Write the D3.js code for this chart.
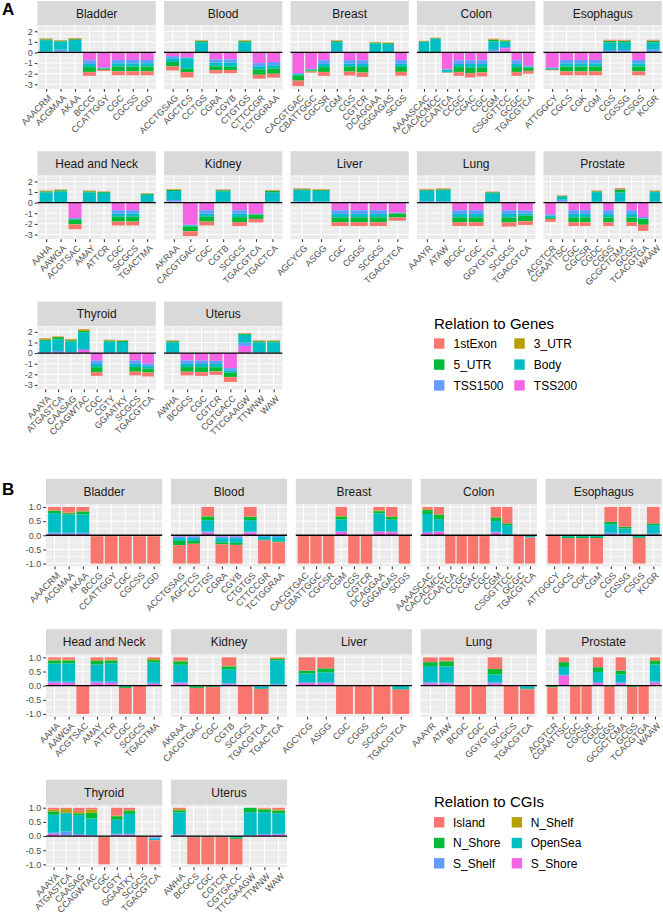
<!DOCTYPE html>
<html><head><meta charset="utf-8">
<script src="https://cdn.jsdelivr.net/npm/d3@7"></script>
<style>
body{margin:0;background:#fff}
svg{display:block}
text{font-family:"Liberation Sans",Arial,Helvetica,sans-serif}
</style>
</head><body>
<svg id="chart" width="663" height="919"></svg>
<script>
const tissues = ["Bladder","Blood","Breast","Colon","Esophagus","Head and Neck","Kidney","Liver","Lung","Prostate","Thyroid","Uterus"];

const motifs = [
  ["AAACRM","ACGMAA","AKAA","BCCG","CCATTGGY","CGC","CGCSS","CGD"],
  ["ACCTGSAG","AGCTCS","CCTGS","CGRA","CGYB","CTGTGS","CTTCCGR","TCTGGRAA"],
  ["CACGTGAC","CBATTGGC","CGCSR","CGM","CGS","CGTCR","DCAGGAA","GGGAGAS","SCGS"],
  ["AAAASCAC","CACACMCC","CCAATCA","CCGC","CGAC","CGC","CGM","CSGGTTCC","GCGC","TGACGTCA"],
  ["ATTGGCY","CGCS","CGK","CGM","CGS","CGSSG","CSGS","KCGR"],
  ["AAHA","AAWGA","ACGTSAC","AMAY","ATTCR","CGC","SCGCS","TGACTMA"],
  ["AKRAA","CACGTGAC","CGC","CGTB","SCGCS","TGACGTCA","TGACTCA"],
  ["AGCYCG","ASGG","CGC","CGGS","SCGCS","TGACGTCA"],
  ["AAAYR","ATAW","BCGC","CGC","GGYGTGY","SCGCS","TGACGTCA"],
  ["ACGTCR","CGAATTSC","CGC","CGCSR","CGDC","CGGS","GCGCTCMA","GCGS","TCACGTGA","WAAW"],
  ["AAAYA","ATGASTCA","CAASAG","CCAGWTAC","CGC","CGTY","GGAATKY","SCGCS","TGACGTCA"],
  ["AWHA","BCGCS","CGC","CGTCR","CGTGACC","TTCGAAGW","TTWNW","WAW"]
];

const geneKeys = ["1stExon","3_UTR","5_UTR","Body","TSS1500","TSS200"];
const cgiKeys = ["Island","N_Shelf","N_Shore","OpenSea","S_Shelf","S_Shore"];
const palette = ["#F8766D","#B79F00","#00BA38","#00BFC4","#619CFF","#F564E3"];

const yTicksA = [-3,-2,-1,0,1,2];
const yTicksB = [-1.0,-0.5,0.0,0.5,1.0];

// Panel A: relation to genes, per tissue, per motif: [1stExon,3_UTR,5_UTR,Body,TSS1500,TSS200]
const geneValues = [
  [[.04,.06,.08,1.05,.06,.04],[.03,.05,.07,.75,.2,.07],[.04,.07,.08,1.05,.08,.04],[-.35,-.02,-.45,-.3,-.35,-.73],[-.1,-.02,-.1,-.05,-.05,-1.43],[-.35,-.02,-.45,-.3,-.32,-.7],[-.36,-.02,-.44,-.3,-.33,-.7],[-.35,-.02,-.45,-.32,-.3,-.71]],
  [[-.4,0,-.4,-.3,-.25,-.35],[-.5,0,-.32,-1.0,-.05,-.48],[.03,.05,.1,.92,.03,.02],[-.3,-.02,-.35,-.35,-.3,-.65],[-.3,0,-.3,-.4,-.3,-.65],[.03,.05,.12,.88,.05,.02],[-.35,-.02,-.5,-.3,-.3,-1.0],[-.35,-.02,-.5,-.3,-.3,-.9]],
  [[-.5,-.02,-.5,-.1,-.1,-1.95],[-.1,-.02,-.1,-.08,-.05,-1.55],[-.35,-.02,-.45,-.3,-.35,-.73],[.03,.05,.1,.85,.08,.04],[-.35,-.02,-.45,-.3,-.33,-.72],[-.4,-.02,-.5,-.3,-.35,-.73],[.03,.04,.08,.8,.03,.02],[.03,.04,.1,.73,.03,.02],[-.35,-.02,-.45,-.3,-.35,-.72]],
  [[.02,.03,.05,.95,.03,.02],[.02,.05,.05,1.23,.03,.02],[-.02,0,-.05,-.2,-.03,-1.6],[-.35,-.02,-.45,-.3,-.35,-.73],[-.4,-.02,-.5,-.35,-.35,-.73],[-.37,-.02,-.46,-.32,-.35,-.73],[.04,.06,.15,.8,.15,.1],[.03,.05,.1,.5,.12,.4],[-.35,-.02,-.45,-.3,-.35,-.73],[-.25,-.02,-.3,-.1,-.08,-1.25]],
  [[-.05,0,-.07,-.08,-.05,-1.43],[-.35,-.02,-.45,-.3,-.32,-.71],[-.35,-.02,-.45,-.3,-.32,-.71],[-.35,-.02,-.45,-.3,-.32,-.71],[.08,.03,.15,.7,.2,.04],[.08,.03,.15,.7,.2,.04],[-.35,-.02,-.45,-.3,-.32,-.71],[.08,.03,.15,.65,.25,.04]],
  [[.03,.05,.1,.92,.03,.02],[.03,.05,.1,1.0,.05,.02],[-.45,-.02,-.45,-.05,-.08,-1.45],[.03,.05,.1,.92,.03,.02],[.03,.04,.08,.87,.03,.02],[-.35,-.02,-.45,-.3,-.32,-.71],[-.35,-.02,-.45,-.3,-.32,-.71],[.02,.03,.1,.72,.02,.01]],
  [[.03,.05,.1,.85,.15,.1],[-.45,-.02,-.45,-.08,-.07,-2.08],[-.35,-.02,-.45,-.3,-.32,-.71],[.03,.05,.1,1.0,.05,.02],[-.36,-.02,-.46,-.32,-.33,-.71],[-.3,-.02,-.4,-.05,-.03,-1.05],[.05,.05,.12,.9,.05,.03]],
  [[.04,.05,.08,1.05,.08,.05],[.03,.05,.08,1.0,.07,.04],[-.35,-.02,-.45,-.32,-.35,-.71],[-.35,-.02,-.45,-.32,-.35,-.71],[-.35,-.02,-.45,-.32,-.35,-.71],[-.3,-.02,-.35,-.05,-.03,-.95]],
  [[.04,.05,.08,1.0,.08,.05],[.04,.05,.08,1.05,.08,.05],[-.35,-.02,-.45,-.32,-.35,-.71],[-.35,-.02,-.45,-.32,-.35,-.71],[.03,.04,.08,.85,.03,.02],[-.38,-.02,-.46,-.33,-.35,-.71],[-.35,-.02,-.5,-.2,-.28,-.75]],
  [[-.25,-.02,-.1,-.2,-.13,-1.1],[.05,.02,.05,.3,.18,.1],[-.35,-.02,-.45,-.32,-.35,-.71],[-.35,-.02,-.45,-.32,-.35,-.71],[.04,.04,.08,.9,.06,.03],[-.35,-.02,-.45,-.32,-.35,-.71],[.08,.05,.3,.85,.06,.04],[-.35,-.02,-.45,-.32,-.35,-.71],[-.55,-.02,-.55,-.05,-.13,-1.35],[.04,.04,.08,.9,.06,.03]],
  [[.05,.1,.12,1.05,.05,.05],[.03,.05,.2,1.1,.15,.05],[.04,.08,.12,1.0,.05,.04],[.03,.15,.15,1.55,.1,.29],[-.35,-.02,-.45,-.3,-.32,-.71],[.03,.05,.1,1.0,.05,.03],[.03,.05,.1,.95,.07,.03],[-.33,-.02,-.43,-.3,-.32,-.7],[-.35,-.02,-.35,-.25,-.23,-1.0]],
  [[.03,.05,.1,.97,.03,.02],[-.33,-.02,-.43,-.3,-.32,-.7],[-.35,-.02,-.45,-.3,-.32,-.71],[-.3,-.02,-.4,-.3,-.3,-.73],[-.45,-.02,-.4,-.2,-.23,-1.42],[.04,.04,.1,.75,.3,.67],[.03,.05,.1,.97,.03,.02],[.03,.05,.1,.97,.03,.02]]
];

// Panel B: relation to CGIs, per tissue, per motif: [Island,N_Shelf,N_Shore,OpenSea,S_Shelf,S_Shore]
const cgiValues = [
  [[.12,.02,.08,.69,.04,.05],[.2,.02,.05,.64,.05,.04],[.14,.02,.1,.65,.05,.04],[-.96,-.01,-.02,-.01,0,0],[-.97,0,-.02,-.01,0,0],[-.96,-.01,-.02,-.01,0,0],[-.96,-.01,-.02,-.01,0,0],[-.96,-.01,-.02,-.01,0,0]],
  [[-.65,0,-.15,-.1,-.05,-.05],[-.7,0,-.1,-.1,-.05,-.05],[.32,.02,.13,.4,.03,.1],[-.68,0,-.07,-.15,-.05,-.05],[-.66,0,-.07,-.17,-.05,-.05],[.33,.02,.12,.4,.03,.1],[-.82,0,-.02,-.1,-.04,-.02],[-.75,0,-.03,-.15,-.05,-.02]],
  [[-.99,0,0,-.01,0,0],[-.99,0,0,-.01,0,0],[-.99,0,0,-.01,0,0],[.32,.02,.1,.42,.02,.12],[-.99,0,0,-.01,0,0],[-.99,0,0,-.01,0,0],[.12,.03,.08,.63,.02,.12],[.33,.02,.1,.42,.02,.11],[-.99,0,0,-.01,0,0]],
  [[.08,.03,.14,.63,.04,.08],[.25,.02,.16,.43,.02,.12],[-.99,0,0,-.01,0,0],[-.99,0,0,-.01,0,0],[-.99,0,0,-.01,0,0],[-.97,0,-.02,-.01,0,0],[.35,.02,.13,.38,.02,.1],[.57,.01,.06,.32,.02,.02],[-.99,0,0,-.01,0,0],[-.92,0,-.01,-.05,-.02,0]],
  [[-.99,0,0,-.01,0,0],[-.9,0,-.04,-.06,0,0],[-.9,0,-.04,-.06,0,0],[-.9,0,-.04,-.06,0,0],[.53,0,.08,.3,.05,.04],[.7,0,.06,.18,.03,.03],[-.9,0,-.03,-.07,0,0],[.58,0,.06,.3,.03,.03]],
  [[.08,.03,.11,.63,.05,.1],[.08,.03,.1,.65,.05,.09],[-.99,0,0,-.01,0,0],[.1,.03,.12,.6,.05,.1],[.08,.03,.1,.65,.05,.09],[-.92,0,-.04,-.04,0,0],[-.99,0,0,-.01,0,0],[.06,.04,.08,.72,.04,.06]],
  [[.12,.02,.12,.62,.04,.08],[-.92,0,-.05,-.03,0,0],[-.95,0,-.02,-.03,0,0],[.3,.02,.1,.5,.03,.05],[-.99,0,0,-.01,0,0],[-.88,0,-.01,-.08,-.03,0],[.03,.03,.05,.83,.03,.03]],
  [[.47,0,.1,.32,.02,.09],[.39,0,.14,.35,.03,.09],[-.97,0,-.02,-.01,0,0],[-.99,0,0,-.01,0,0],[-.99,0,0,-.01,0,0],[-.86,0,-.02,-.1,-.02,0]],
  [[.17,0,.14,.57,.04,.08],[.12,.02,.18,.57,.03,.08],[-.99,0,0,-.01,0,0],[-.99,0,0,-.01,0,0],[.41,0,.2,.27,.04,.08],[-.99,0,0,-.01,0,0],[-.87,0,-.02,-.08,-.03,0]],
  [[-.94,0,-.04,-.02,0,0],[.17,0,.17,.28,.02,.36],[-.96,0,-.02,-.02,0,0],[-.99,0,0,-.01,0,0],[.35,0,.17,.35,.04,.09],[-.96,0,-.02,-.02,0,0],[.47,0,.14,.27,.04,.08],[-.95,0,-.03,-.02,0,0],[-.99,0,0,-.01,0,0],[.1,.03,.12,.6,.05,.1]],
  [[.07,.06,.12,.63,.04,.08],[.05,.12,.02,.65,.14,.02],[.15,.05,.06,.67,.03,.04],[.06,.12,.2,.58,.02,.02],[-.96,0,-.02,-.02,0,0],[.28,.02,.12,.5,.03,.05],[.08,.02,.12,.7,.03,.05],[-.99,0,0,-.01,0,0],[-.85,0,0,-.05,-.05,-.05]],
  [[.05,.04,.08,.77,.03,.03],[-.96,0,-.02,-.02,0,0],[-.96,0,-.02,-.02,0,0],[-.96,0,-.02,-.02,0,0],[-.9,0,-.04,-.06,0,0],[0,0,.16,.8,.02,.02],[.03,.03,.1,.77,.03,.04],[.07,.03,.1,.72,.03,.05]]
];

const svg = d3.select("#chart");

function drawSet(cfg) {
  const { values, keys, tops, stripH, plotH, left, width, step, ticks, fmt, minorStep, letter, letterY, legend } = cfg;
  let lo = 0, hi = 0;
  values.forEach(t => t.forEach(v => {
    let p = 0, n = 0;
    v.forEach(x => { if (x > 0) p += x; else n += x; });
    hi = Math.max(hi, p); lo = Math.min(lo, n);
  }));
  const pad = (hi - lo) * 0.05;
  const y = d3.scaleLinear().domain([lo - pad, hi + pad]).range([plotH, 0]);
  const [d0, d1] = y.domain();
  const minors = [];
  for (let v = Math.ceil(d0 / minorStep) * minorStep; v <= d1 + 1e-9; v += minorStep) {
    if (!ticks.some(t => Math.abs(t - v) < 1e-6)) minors.push(+v.toFixed(4));
  }
  const color = d3.scaleOrdinal().domain(keys).range(palette);

  tissues.forEach((tissue, i) => {
    const r = Math.floor(i / 5), c = i % 5;
    const g = svg.append("g").attr("transform", `translate(${left + c * step},${tops[r]})`);
    g.append("rect").attr("width", width).attr("height", stripH).attr("fill", "#D9D9D9");
    g.append("text").attr("x", width / 2).attr("y", stripH / 2).attr("dy", "0.36em")
      .attr("text-anchor", "middle").attr("font-size", 12).attr("fill", "#1A1A1A").text(tissue);

    const p = g.append("g").attr("transform", `translate(0,${stripH})`);
    p.append("rect").attr("width", width).attr("height", plotH).attr("fill", "#EBEBEB");
    const m = motifs[i];
    const x = d3.scaleLinear().domain([0.4, m.length + 0.6]).range([0, width]);

    p.selectAll(".minor").data(minors).join("line")
      .attr("x1", 0).attr("x2", width).attr("y1", d => y(d)).attr("y2", d => y(d))
      .attr("stroke", "#fff").attr("stroke-width", 0.55);
    p.selectAll(".major").data(ticks).join("line")
      .attr("x1", 0).attr("x2", width).attr("y1", d => y(d)).attr("y2", d => y(d))
      .attr("stroke", "#fff").attr("stroke-width", 1.07);
    p.selectAll(".vmajor").data(d3.range(1, m.length + 1)).join("line")
      .attr("x1", d => x(d)).attr("x2", d => x(d)).attr("y1", 0).attr("y2", plotH)
      .attr("stroke", "#fff").attr("stroke-width", 1.07);

    const rows = values[i].map((v, j) => {
      const o = { idx: j + 1 };
      keys.forEach((k, q) => o[k] = v[q]);
      return o;
    });
    const series = d3.stack().keys(keys.slice().reverse()).offset(d3.stackOffsetDiverging)(rows);
    const bw = x(0.9) - x(0);
    series.forEach(s => {
      p.append("g").attr("fill", color(s.key)).selectAll("rect").data(s).join("rect")
        .attr("x", d => x(d.data.idx) - bw / 2).attr("width", bw)
        .attr("y", d => y(Math.max(d[0], d[1])))
        .attr("height", d => Math.abs(y(d[0]) - y(d[1])));
    });
    p.append("line").attr("x1", 0).attr("x2", width).attr("y1", y(0)).attr("y2", y(0))
      .attr("stroke", "#000").attr("stroke-width", 1.3);

    // x axis
    const xa = p.append("g").attr("transform", `translate(0,${plotH})`)
      .call(d3.axisBottom(x).tickValues(d3.range(1, m.length + 1)).tickFormat(d => m[d - 1]).tickSize(2.75).tickPadding(2));
    xa.select(".domain").remove();
    xa.selectAll(".tick line").attr("stroke", "#333").attr("stroke-width", 1.07);
    xa.selectAll(".tick text").attr("fill", "#4D4D4D").attr("font-size", 9)
      .attr("font-family", '"Liberation Sans",Arial,sans-serif')
      .attr("text-anchor", "end").attr("y", 0).attr("dy", "0.72em")
      .attr("transform", "translate(1,5) rotate(-45)");

    if (c === 0) {
      const ya = p.append("g").call(d3.axisLeft(y).tickValues(ticks).tickFormat(fmt).tickSize(2.75).tickPadding(2));
      ya.select(".domain").remove();
      ya.selectAll(".tick line").attr("stroke", "#333").attr("stroke-width", 1.07);
      ya.selectAll(".tick text").attr("fill", "#4D4D4D").attr("font-size", 9)
        .attr("font-family", '"Liberation Sans",Arial,sans-serif');
    }
  });

  svg.append("text").attr("x", 2).attr("y", letterY).attr("font-size", 17).attr("font-weight", "bold")
    .attr("fill", "#000").text(letter);

  const lg = svg.append("g");
  lg.append("text").attr("x", legend.x).attr("y", legend.titleY).attr("font-size", 15)
    .attr("fill", "#000").text(legend.title);
  keys.forEach((k, q) => {
    const col = q % 2, row = Math.floor(q / 2);
    const kx = legend.keyX[col], cy = legend.rowY[row];
    lg.append("rect").attr("x", kx).attr("y", cy - 5.2).attr("width", 10.4).attr("height", 10.4).attr("fill", color(k));
    lg.append("text").attr("x", kx + legend.labelGap).attr("y", cy).attr("dy", "0.36em")
      .attr("font-size", 12).attr("fill", "#000").text(k);
  });
}

drawSet({
  values: geneValues, keys: geneKeys, tops: [1, 151.2, 301.6], stripH: 24.5, plotH: 63.5,
  left: 37.5, width: 118.3, step: 126.5, ticks: yTicksA, fmt: d => String(d), minorStep: 0.5,
  letter: "A", letterY: 14.5,
  legend: { x: 434, title: "Relation to Genes", titleY: 329, keyX: [434, 514.3], rowY: [343.5, 364.6, 385.4], labelGap: 19.5 }
});

drawSet({
  values: cgiValues, keys: cgiKeys, tops: [478.8, 629.2, 779.6], stripH: 25.3, plotH: 62.3,
  left: 46, width: 116.2, step: 124.9, ticks: yTicksB, fmt: d => d.toFixed(1), minorStep: 0.25,
  letter: "B", letterY: 495,
  legend: { x: 434, title: "Relation to CGIs", titleY: 806.5, keyX: [434, 511.7], rowY: [822.3, 843, 863.3], labelGap: 19 }
});
</script>
</body></html>
